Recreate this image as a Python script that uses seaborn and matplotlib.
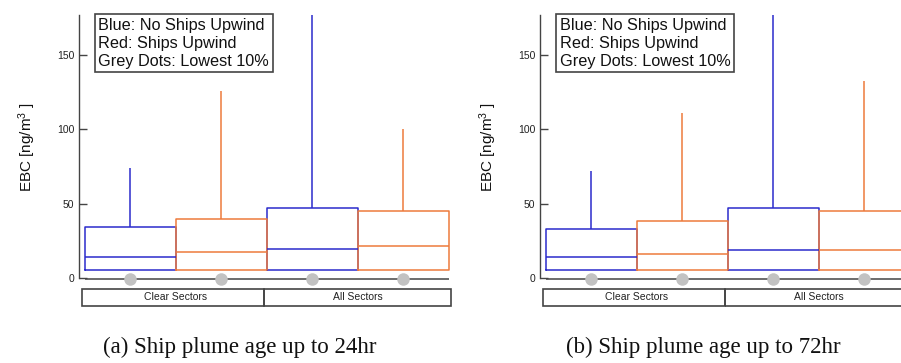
import matplotlib
matplotlib.use("Agg")
import matplotlib.pyplot as plt
from matplotlib.patches import Rectangle
import pandas as pd
import seaborn as sns

# ---- data -------------------------------------------------------------
sectors = ["Clear Sectors", "All Sectors"]
conditions = ["No Ships Upwind", "Ships Upwind"]

# box statistics in EBC [ng/m3], ordered
# (Clear/no ships, Clear/ships, All/no ships, All/ships)
q1_24 = [5.4, 5.4, 5.4, 5.4]
median_24 = [14.1, 17.1, 19.1, 21.1]
q3_24 = [33.9, 39.9, 47.0, 45.0]
upper_24 = [73.9, 125.9, 190.0, 100.0]
lowest10_24 = [-1.0, -1.0, -1.0, -1.0]

q1_72 = [5.2, 5.2, 5.2, 5.2]
median_72 = [14.1, 16.1, 19.0, 19.0]
q3_72 = [32.9, 38.3, 47.0, 45.0]
upper_72 = [71.9, 110.9, 190.0, 132.6]
lowest10_72 = [-1.0, -1.0, -1.0, -1.0]

yticks = [0, 50, 100, 150]
captions = ["(a) Ship plume age up to 24hr", "(b) Ship plume age up to 72hr"]
legend_text = "Blue: No Ships Upwind\nRed: Ships Upwind\nGrey Dots: Lowest 10%"

BLUE = "#2b2bcc"
ORANGE = "#ee7a3c"
GREY = "#c2c2c2"
DARK = "#444444"

sns.set_theme(style="white")
plt.rcParams["font.family"] = ["Liberation Sans", "DejaVu Sans"]
plt.rcParams["mathtext.default"] = "regular"


def box_frame(q1, med, q3, upper):
    """Five-point summaries per box: min (=Q1, no lower whisker), Q1, median, Q3, max."""
    rows = []
    k = 0
    for s in sectors:
        for c in conditions:
            for v in (q1[k], q1[k], med[k], q3[k], upper[k]):
                rows.append({"sector": s, "condition": c, "ebc": v})
            k += 1
    return pd.DataFrame(rows)


def dot_frame(low):
    rows = []
    k = 0
    for s in sectors:
        for c in conditions:
            rows.append({"sector": s, "condition": c, "ebc": low[k]})
            k += 1
    return pd.DataFrame(rows)


W, H = 901, 363
fig = plt.figure(figsize=(W / 100, H / 100), dpi=100)

YMIN, YMAX = -8, 177
panels = [
    (79, (q1_24, median_24, q3_24, upper_24), lowest10_24, captions[0], 240),
    (540, (q1_72, median_72, q3_72, upper_72), lowest10_72, captions[1], 703),
]

for left_px, stats, low, caption, cap_x in panels:
    ax = fig.add_axes([left_px / W, (H - 289.6) / H, 375 / W, 274.6 / H])

    sns.boxplot(data=box_frame(*stats), x="sector", y="ebc", hue="condition",
                order=sectors, hue_order=conditions, palette=[BLUE, ORANGE],
                fill=False, width=1.0, gap=0, whis=(0, 100), showcaps=False,
                linewidth=1.1, legend=False, ax=ax)

    # baseline joining the lowest-10% markers
    ax.hlines(low[0], -0.5, len(sectors) - 0.5, color=DARK, lw=1.1, zorder=2)
    sns.pointplot(data=dot_frame(low), x="sector", y="ebc", hue="condition",
                  order=sectors, hue_order=conditions, palette=[GREY, GREY],
                  dodge=0.5, linestyle="none", markers="o", markersize=9,
                  markeredgewidth=0, errorbar=None, legend=False, ax=ax)
    for coll in ax.lines[-2:]:
        coll.set_zorder(3)

    ax.set_xlim(-0.531, 1.53)
    ax.set_ylim(YMIN, YMAX)
    ax.set_xticks([])
    ax.set_xlabel("")
    ax.set_yticks(yticks)
    ax.tick_params(axis="y", direction="in", length=6, width=1.0, color=DARK,
                   labelsize=7.5, labelcolor="#222222", pad=3.5, left=True)
    for side in ("top", "right", "bottom"):
        ax.spines[side].set_visible(False)
    ax.spines["left"].set_bounds(0, YMAX)
    ax.spines["left"].set_color(DARK)
    ax.spines["left"].set_linewidth(1.0)

    ax.set_ylabel("EBC [ng/m$^{3}$ ]", fontsize=11, color="#111111")
    ax.yaxis.set_label_coords(-0.11, 0.52)

    # sector name cells under the axis
    n = len(sectors)
    for i, s in enumerate(sectors):
        x0 = i - 0.515
        w = 1.0 + (0.03 if i == n - 1 else 0)
        ax.add_patch(Rectangle((x0, -19.0), w, 11.6, fill=False, edgecolor=DARK,
                               lw=1.2, clip_on=False))
        ax.text(i, -13.2, s, ha="center", va="center", fontsize=7.5,
                color="#222222", clip_on=False)

    ax.text(0.052, 0.99, legend_text, transform=ax.transAxes, ha="left", va="top",
            fontsize=11.7, linespacing=1.24, color="#111111",
            bbox=dict(boxstyle="square,pad=0.2", fc="white", ec=DARK, lw=1.2))

    fig.text(cap_x / W, 1 - 347 / H, caption, ha="center", va="center",
             fontsize=16.5, family=["Liberation Serif", "DejaVu Serif"], color="#111111")

fig.savefig("out.png", dpi=100)
